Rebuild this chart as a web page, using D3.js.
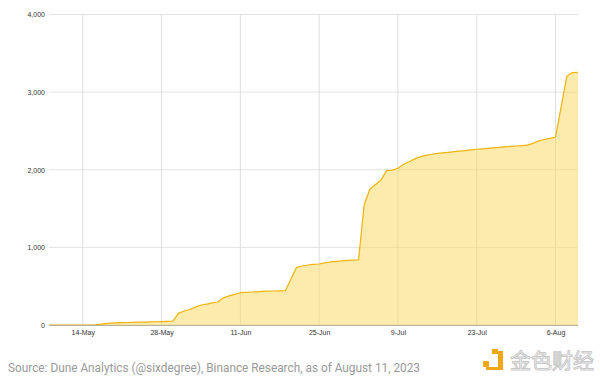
<!DOCTYPE html>
<html>
<head>
<meta charset="utf-8">
<script src="https://cdn.jsdelivr.net/npm/d3@7"></script>
<style>
  html, body { margin: 0; padding: 0; background: #fff; }
  svg { display: block; }
</style>
</head>
<body>
<svg id="chart" width="600" height="382"></svg>
<script>
// ---- data ----
const startDate = "2023-05-08";
const values = [
  0, 0, 0, 0, 0, 0, 0, 0, 0,                 // 8-May .. 16-May
  8, 18, 25, 28, 30, 32, 34, 36, 38, 40, 42, 44, 46, 48, // 17-May .. 30-May
  150, 180, 200, 230, 258, 270, 285, 296, 350, 375, 395, // 31-May .. 10-Jun
  416, 420, 425, 428, 432, 436, 438, 440, 442,          // 11-Jun .. 19-Jun
  592, 743, 760, 773, 780, 786, 800, 812, 820, 826, 832, 835, 838, // 20-Jun .. 2-Jul
  1546, 1749, 1810, 1869, 1988, 1995, 2020, 2070, 2104, 2140, 2169, // 3-Jul .. 13-Jul
  2185, 2200, 2210, 2218, 2225, 2233, 2240, 2246, 2255, 2264,      // 14-Jul .. 23-Jul
  2270, 2276, 2282, 2288, 2294, 2300, 2306, 2310, 2318, 2340,      // 24-Jul .. 2-Aug
  2371, 2390, 2405, 2419, 2810, 3200, 3252, 3256                   // 3-Aug .. 10-Aug
];
const xTickDates = ["2023-05-14", "2023-05-28", "2023-06-11", "2023-06-25", "2023-07-09", "2023-07-23", "2023-08-06"];
const yTicks = [0, 1000, 2000, 3000, 4000];
const sourceText = "Source: Dune Analytics (@sixdegree), Binance Research, as of August 11, 2023";
const watermarkText = "金色财经";

// ---- build ----
const parse = d3.utcParse("%Y-%m-%d");
const t0 = parse(startDate);
const data = values.map((v, i) => ({ date: d3.utcDay.offset(t0, i), value: v }));

const svg = d3.select("#chart");
const margin = { left: 49, right: 22, top: 14.5, bottom: 57 };
const W = 600, H = 382;

const x = d3.scaleUtc()
  .domain([t0, data[data.length - 1].date])
  .range([margin.left, W - margin.right]);
const y = d3.scaleLinear()
  .domain([0, 4000])
  .range([325, margin.top]);

// grid
const grid = svg.append("g");
grid.selectAll("line.h").data(yTicks).join("line")
  .attr("x1", margin.left).attr("x2", W - margin.right)
  .attr("y1", d => y(d)).attr("y2", d => y(d))
  .attr("stroke", "#e3e3e3").attr("stroke-width", 1);
grid.selectAll("line.v").data(xTickDates.map(parse)).join("line")
  .attr("x1", d => x(d)).attr("x2", d => x(d))
  .attr("y1", y(4000)).attr("y2", y(0))
  .attr("stroke", "#dedede").attr("stroke-width", 1);

// area
const area = d3.area().x(d => x(d.date)).y0(y(0)).y1(d => y(d.value));
svg.append("path").datum(data)
  .attr("d", area)
  .attr("fill", "#fbd75b")
  .attr("fill-opacity", 0.5);
const line = d3.line().x(d => x(d.date)).y(d => y(d.value));
svg.append("path").datum(data)
  .attr("d", line)
  .attr("fill", "none")
  .attr("stroke", "#efb30f")
  .attr("stroke-width", 1.2)
  .attr("stroke-linejoin", "round");

// baseline
svg.append("line")
  .attr("x1", margin.left).attr("x2", W - margin.right)
  .attr("y1", y(0) + 0.5).attr("y2", y(0) + 0.5)
  .attr("stroke", "#b8b09a").attr("stroke-width", 1.2);

// axes
const yAxis = d3.axisLeft(y).tickValues(yTicks).tickFormat(d3.format(",")).tickSize(0).tickPadding(4);
svg.append("g").attr("transform", `translate(${margin.left},0)`).call(yAxis)
  .call(g => g.select(".domain").remove())
  .selectAll("text").attr("font-family", "Liberation Sans, Arial, sans-serif").attr("font-size", 7).attr("fill", "#333");

const xAxis = d3.axisBottom(x).tickValues(xTickDates.map(parse)).tickFormat(d3.utcFormat("%-d-%b")).tickSize(0).tickPadding(5);
svg.append("g").attr("transform", `translate(0,${y(0)})`).call(xAxis)
  .call(g => g.select(".domain").remove())
  .selectAll("text").attr("font-family", "Liberation Sans, Arial, sans-serif").attr("font-size", 7).attr("fill", "#333");

// source
svg.append("text")
  .attr("x", 8).attr("y", 371.5)
  .attr("font-family", "Roboto, sans-serif")
  .attr("font-size", 12.5)
  .attr("fill", "#9a9a9a")
  .attr("textLength", 412)
  .attr("lengthAdjust", "spacingAndGlyphs")
  .text(sourceText);

// watermark
const wm = svg.append("g").attr("transform", "translate(483,349)");
wm.append("rect").attr("x", 0).attr("y", 12).attr("width", 6).attr("height", 6).attr("rx", 1).attr("fill", "#f0a816");
wm.append("rect").attr("x", 9).attr("y", 0).attr("width", 6).attr("height", 5).attr("fill", "#f0a816");
wm.append("path").attr("d", "M15,2 L20,2 L20,21 L3,21 L3,18 L15,18 Z").attr("fill", "#f0a816");
wm.append("text").attr("x", 27).attr("y", 19)
  .attr("font-family", "Noto Sans CJK SC, sans-serif")
  .attr("font-size", 21)
  .attr("fill", "#fff")
  .attr("stroke", "#c8c8c8")
  .attr("stroke-width", 1)
  .text(watermarkText);
</script>
</body>
</html>
